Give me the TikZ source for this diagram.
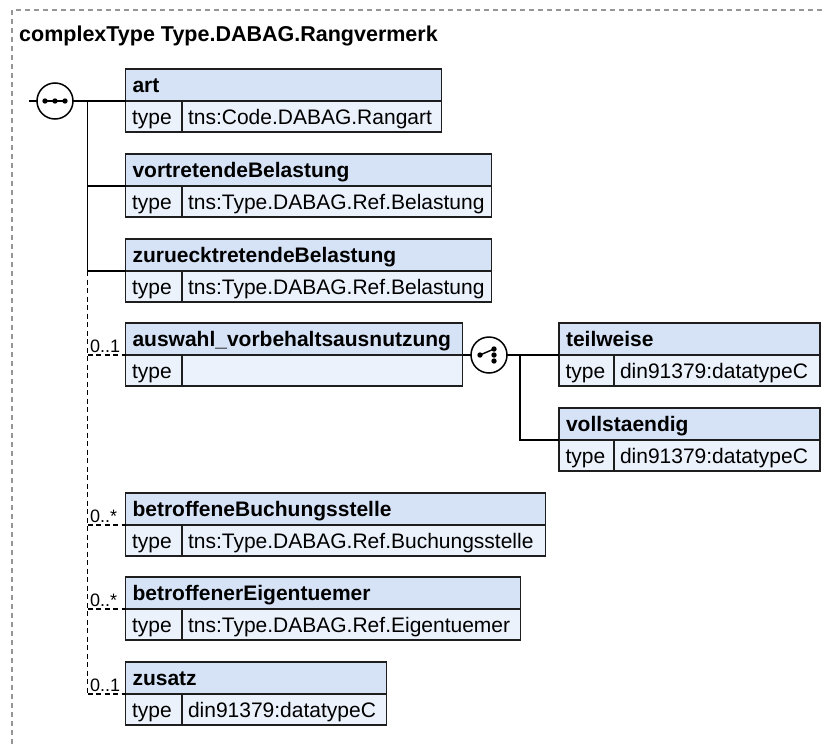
\documentclass[tikz,border=0pt]{standalone}
\usepackage{fontspec}
\setmainfont{Liberation Sans}
\usetikzlibrary{calc}
\definecolor{hdrfill}{RGB}{214,227,247}
\definecolor{rowfill}{RGB}{235,242,252}
\definecolor{framegray}{RGB}{150,150,150}
\definecolor{boxline}{RGB}{30,30,30}
\tikzset{
  x=1pt,y=-1pt,
  hdr/.style={draw=boxline, line width=1.6pt, fill=hdrfill, minimum height=32pt, inner sep=0pt, outer sep=0pt, anchor=north west},
  cell/.style={draw=boxline, line width=1.6pt, fill=rowfill, minimum height=31pt, inner sep=0pt, outer sep=0pt, anchor=north west},
  lbl/.style={inner sep=0pt, outer sep=0pt, text height=15pt, text depth=0pt, anchor=west, font=\fontsize{21}{24}\selectfont},
  lblb/.style={lbl, font=\bfseries\fontsize{21}{24}\selectfont},
  mult/.style={inner sep=0pt, outer sep=0pt, anchor=base west, font=\fontsize{18}{21}\selectfont},
  conn/.style={draw=black, line width=1.4pt},
  dconn/.style={conn, dash pattern=on 5pt off 3.5pt},
  symb/.style={circle, draw=black, line width=1.5pt, fill=white, minimum size=36pt, inner sep=0pt, outer sep=0pt},
}
\newcommand\ElemBox[7]{% id, x, top, width, divw, name, type
  \node[hdr, minimum width=#4pt] (#1) at (#2,#3) {};
  \node[lblb] (#1-n) at ([xshift=7pt]#1.west) {#6};
  \node[cell, minimum width=#5pt] (#1-tl) at (#1.south west) {};
  \node[lbl] (#1-tt) at ([xshift=6.5pt]#1-tl.west) {type};
  \node[cell, minimum width={#4pt-#5pt}] (#1-tv) at (#1-tl.north east) {};
  \node[lbl] (#1-tvt) at ([xshift=6pt]#1-tv.west) {#7};
}
\begin{document}
\begin{tikzpicture}
\useasboundingbox (0,0) rectangle (826,744);
% frame
\draw[framegray, line width=1.3pt, dash pattern=on 5pt off 4pt] (12,744) -- (12,10) -- (830,10);
\node[inner sep=0pt, anchor=base west, font=\bfseries\fontsize{21.5}{25}\selectfont] (title) at (19,41) {complexType Type.DABAG.Rangvermerk};

% boxes
\ElemBox{art}{125.5}{69}{316}{56.5}{art}{tns:Code.DABAG.Rangart}
\ElemBox{vort}{125.5}{154}{366}{56.5}{vortretendeBelastung}{tns:Type.DABAG.Ref.Belastung}
\ElemBox{zur}{125.5}{239}{366}{56.5}{zuruecktretendeBelastung}{tns:Type.DABAG.Ref.Belastung}
\ElemBox{ausw}{125.5}{323}{337}{56.5}{auswahl\_vorbehaltsausnutzung}{}
\ElemBox{teil}{559}{323}{261}{55}{teilweise}{din91379:datatypeC}
\ElemBox{voll}{559}{408}{261}{55}{vollstaendig}{din91379:datatypeC}
\ElemBox{betrB}{125.5}{493}{420}{56.5}{betroffeneBuchungsstelle}{tns:Type.DABAG.Ref.Buchungsstelle}
\ElemBox{betrE}{125.5}{577}{395}{56.5}{betroffenerEigentuemer}{tns:Type.DABAG.Ref.Eigentuemer}
\ElemBox{zus}{125.5}{662}{261}{56.5}{zusatz}{din91379:datatypeC}

% sequence symbol
\node[symb] (seq) at (55,101) {};
\coordinate (seqL) at (29,101);
\coordinate (trunk) at (87.5,101);
\draw[conn] (seqL) -- (seq.west);
\draw[conn] (seq.east) -- (art.south west);
\draw[line width=1.4pt] ([xshift=-11pt]seq.center) -- ([xshift=11pt]seq.center);
\foreach \d in {-10,0,10} \fill ([xshift=\d pt]seq.center) circle[radius=2.7pt];

% solid branches
\draw[conn] (trunk) |- (vort.south west);
\draw[conn] (trunk) |- (zur.south west);
% dashed branches
\draw[dconn] (zur.south west -| trunk) -- (zus.south west -| trunk);
\foreach \b in {ausw,betrB,betrE,zus}
  \draw[dconn] (\b.south west -| trunk) -- (\b.south west);
\node[mult] (ausw-m) at ([xshift=-35.5pt,yshift=3pt]ausw.south west) {0..1};
\node[mult] (betrB-m) at ([xshift=-35.5pt,yshift=3pt]betrB.south west) {0..*};
\node[mult] (betrE-m) at ([xshift=-35.5pt,yshift=3pt]betrE.south west) {0..*};
\node[mult] (zus-m) at ([xshift=-35.5pt,yshift=3pt]zus.south west) {0..1};

% choice symbol
\node[symb] (ch) at (489,355) {};
\coordinate (chtrunk) at (520,355);
\draw[conn] (ausw-tv.north east) -- (ch.west);
\draw[conn] (ch.east) -- (teil.south west);
\draw[conn] (chtrunk) |- (voll.south west);
\draw[line width=1.4pt] ([xshift=-9pt]ch.center) -- ([xshift=5pt,yshift=6pt]ch.center);
\fill ([xshift=-9pt]ch.center) circle[radius=2.7pt];
\foreach \d in {-6,0,6} \fill ([xshift=5pt,yshift=\d pt]ch.center) circle[radius=2.7pt];
\end{tikzpicture}
\end{document}
